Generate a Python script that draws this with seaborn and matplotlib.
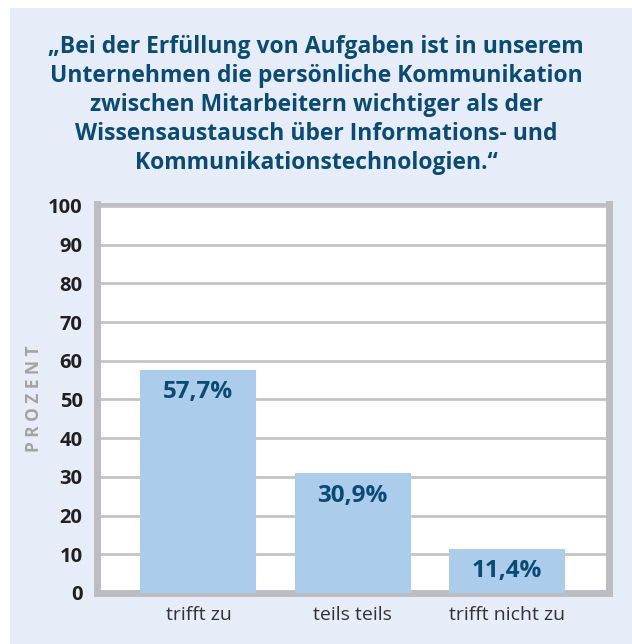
import matplotlib
matplotlib.use('Agg')
import matplotlib.pyplot as plt
import seaborn as sns
import pandas as pd

categories = ['trifft zu', 'teils teils', 'trifft nicht zu']
values = [57.7, 30.9, 11.4]
value_labels = ['57,7%', '30,9%', '11,4%']
y_ticks = [0, 10, 20, 30, 40, 50, 60, 70, 80, 90, 100]

title = ('„Bei der Erfüllung von Aufgaben ist in unserem\n'
         'Unternehmen die persönliche Kommunikation\n'
         'zwischen Mitarbeitern wichtiger als der\n'
         'Wissensaustausch über Informations- und\n'
         'Kommunikationstechnologien.“')

bg = '#e6edf8'
bar_color = '#abcceb'
dark_blue = '#0b4a73'
border = '#bcbdc0'

sns.set_style('white')
plt.rcParams['font.family'] = ['Open Sans', 'DejaVu Sans']

df = pd.DataFrame({'answer': categories, 'value': values})

fig = plt.figure(figsize=(6.32, 6.44), dpi=100)
fig.patch.set_facecolor('white')
# light blue panel behind everything
fig.patches.append(plt.Rectangle((10 / 632, 0), 1, 1 - 8 / 644, transform=fig.transFigure,
                                 facecolor=bg, edgecolor='none', zorder=-10))

ax = fig.add_axes([96.5 / 632, 1 - 593 / 644, (609 - 96.5) / 632, (593 - 204) / 644])
ax.set_facecolor('white')

sns.barplot(data=df, x='answer', y='value', color=bar_color, width=0.75,
            saturation=1, linewidth=0, ax=ax, zorder=3)

for i, (v, lab) in enumerate(zip(values, value_labels)):
    ax.annotate(lab, (i, v), xytext=(0, -16), textcoords='offset points',
                ha='center', va='center', fontsize=17.5, fontweight='bold',
                color=dark_blue, zorder=4)

ax.set_ylim(0, 100.5)
ax.set_xlim(-0.66, 2.66)
ax.set_yticks(y_ticks)
ax.set_yticklabels([str(t) for t in y_ticks], fontsize=14.5, fontweight='bold', color='#231f20')
ax.yaxis.grid(True, color='#c4c4c4', linewidth=2, zorder=0)
ax.set_axisbelow(True)
ax.tick_params(axis='y', length=0, pad=10)
ax.tick_params(axis='x', length=0, pad=9, labelsize=14, labelcolor='#333333')
ax.set_xlabel('')
ax.set_ylabel('P R O Z E N T', fontsize=12.5, fontweight='bold', color='#a3a3a3')
ax.yaxis.set_label_coords(-0.105, 0.5)

for side in ['left', 'right', 'bottom']:
    ax.spines[side].set_color(border)
    ax.spines[side].set_linewidth(5)
ax.spines['top'].set_color(border)
ax.spines['top'].set_linewidth(2)

fig.text(0.5, 1 - 105 / 644, title, ha='center', va='center', fontsize=16.5,
         fontweight='bold', color=dark_blue, linespacing=1.27)

fig.savefig('out.png', dpi=100, facecolor=fig.get_facecolor())
